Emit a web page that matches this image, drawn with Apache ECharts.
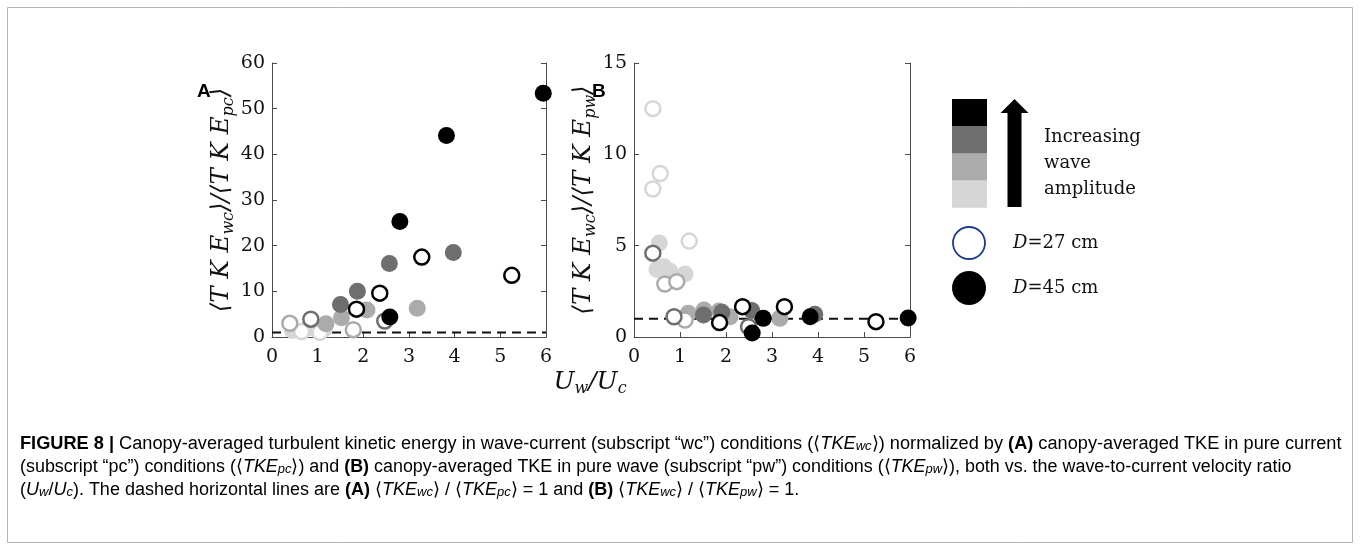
<!DOCTYPE html>
<html lang="en">
<head>
<meta charset="UTF-8">
<title>Figure 8</title>
<style>html,body{margin:0;padding:0;background:#fff}</style>
</head>
<body>
<div id="main" style="width:1360px;height:548px;"></div>
<script src="https://cdn.jsdelivr.net/npm/echarts@6/dist/echarts.min.js"></script>
<script>
// grey levels, lightest -> darkest (increasing wave amplitude)
var levelColors = ['#d6d6d6', '#ababab', '#6e6e6e', '#000000'];

// panel A : <TKEwc>/<TKEpc> vs Uw/Uc  (27 = open, 45 = filled)
var a27_lv1 = [[0.65, 1.2], [1.05, 1.0]];
var a45_lv1 = [[0.45, 1.4], [0.8, 2.0], [1.15, 1.8]];
var a27_lv2 = [[0.39, 3.0], [1.78, 1.6]];
var a45_lv2 = [[1.18, 2.9], [1.52, 4.2], [2.08, 5.9], [3.18, 6.3]];
var a27_lv3 = [[0.85, 3.9], [2.47, 3.5]];
var a45_lv3 = [[1.5, 7.1], [1.87, 10.0], [2.57, 16.1], [3.97, 18.5]];
var a27_lv4 = [[1.85, 6.1], [2.36, 9.6], [3.28, 17.5], [5.25, 13.5]];
var a45_lv4 = [[2.58, 4.4], [2.8, 25.3], [3.82, 44.1], [5.94, 53.4]];

// panel B : <TKEwc>/<TKEpw> vs Uw/Uc
var b27_lv1 = [[0.41, 12.5], [0.57, 8.95], [0.41, 8.1], [1.2, 5.25]];
var b45_lv1 = [[0.55, 5.15], [0.5, 3.7], [0.65, 3.85], [0.78, 3.6], [1.11, 3.45]];
var b27_lv2 = [[0.67, 2.9], [0.93, 3.03], [1.11, 0.93]];
var b45_lv2 = [[1.18, 1.3], [1.52, 1.48], [1.85, 1.42], [2.09, 1.11], [3.17, 1.02]];
var b27_lv3 = [[0.41, 4.59], [0.87, 1.11], [2.49, 0.56]];
var b45_lv3 = [[1.51, 1.2], [1.91, 1.35], [2.56, 1.45], [3.93, 1.24]];
var b27_lv4 = [[1.86, 0.79], [2.36, 1.66], [3.27, 1.66], [5.26, 0.84]];
var b45_lv4 = [[2.57, 0.22], [2.81, 1.02], [3.83, 1.11], [5.96, 1.04]];

// dashed reference line (ratio = 1)
var refLine = [[0, 1], [6, 1]];

var yMaxA = 60, yStepA = 10;
var yMaxB = 15, yStepB = 5;

var serif = 'DejaVu Serif';
var axisCol = '#4a4a4a';

function dots(data, level, open, gi) {
    var c = levelColors[level];
    return {
        type: 'scatter', xAxisIndex: gi, yAxisIndex: gi * 2,
        data: data, symbol: 'circle',
        symbolSize: open ? 15 : 17,
        z: 3 + level,
        itemStyle: open
            ? { color: '#fff', borderColor: c, borderWidth: 2.5, opacity: 1 }
            : { color: c, borderWidth: 0, opacity: 1 },
        emphasis: { disabled: true }
    };
}

function dashed(gi) {
    return {
        type: 'line', xAxisIndex: gi, yAxisIndex: gi * 2, data: refLine,
        symbol: 'none', z: 2,
        lineStyle: { color: '#111', width: 2, type: [9, 6] }
    };
}

function xAx(gi) {
    return {
        gridIndex: gi, type: 'value', min: 0, max: 6, interval: 1,
        axisLine: { show: true, onZero: false, lineStyle: { color: axisCol } },
        axisTick: { show: true, inside: true, length: 5, lineStyle: { color: axisCol } },
        axisLabel: { fontFamily: serif, fontSize: 19, color: '#111', margin: 11 },
        splitLine: { show: false }
    };
}

function yAx(gi, max, step, name, gap) {
    return [{
        gridIndex: gi, type: 'value', min: 0, max: max, interval: step, position: 'left',
        axisLine: { show: true, lineStyle: { color: axisCol } },
        axisTick: { show: true, inside: true, length: 5, lineStyle: { color: axisCol } },
        axisLabel: { fontFamily: serif, fontSize: 19, color: '#111', margin: 7 },
        splitLine: { show: false },
        name: name, nameLocation: 'middle', nameGap: gap,
        nameTextStyle: {
            color: '#111',
            rich: {
                m: { fontFamily: serif, fontStyle: 'italic', fontSize: 24.5, color: '#111', lineHeight: 31 },
                s: { fontFamily: serif, fontStyle: 'italic', fontSize: 16, color: '#111', verticalAlign: 'bottom', lineHeight: 26 }
            }
        }
    }, {
        gridIndex: gi, type: 'value', min: 0, max: max, interval: step, position: 'right',
        axisLine: { show: true, lineStyle: { color: axisCol } },
        axisTick: { show: true, inside: true, length: 5, lineStyle: { color: axisCol } },
        axisLabel: { show: false },
        splitLine: { show: false }
    }];
}

var capFont = 'Liberation Sans';
var capRich = {
    n: { fontFamily: capFont, fontSize: 18, color: '#231f20' },
    b: { fontFamily: capFont, fontSize: 18, fontWeight: 'bold', color: '#231f20' },
    i: { fontFamily: capFont, fontSize: 18, fontStyle: 'italic', color: '#231f20' },
    is: { fontFamily: capFont, fontSize: 13, fontStyle: 'italic', color: '#231f20', verticalAlign: 'bottom', lineHeight: 17 }
};
var capLines = [
    '{b|FIGURE 8 |}{n| Canopy-averaged turbulent kinetic energy in wave-current (subscript \u201cwc\u201d) conditions (\u27e8}{i|TKE}{is|wc}{n|\u27e9) normalized by }{b|(A)}{n| canopy-averaged TKE in pure current}',
    '{n|(subscript \u201cpc\u201d) conditions (\u27e8}{i|TKE}{is|pc}{n|\u27e9) and }{b|(B)}{n| canopy-averaged TKE in pure wave (subscript \u201cpw\u201d) conditions (\u27e8}{i|TKE}{is|pw}{n|\u27e9), both vs. the wave-to-current velocity ratio}',
    '{n|(}{i|U}{is|w}{n|/}{i|U}{is|c}{n|). The dashed horizontal lines are }{b|(A)}{n| \u27e8}{i|TKE}{is|wc}{n|\u27e9 / \u27e8}{i|TKE}{is|pc}{n|\u27e9 = 1 and }{b|(B)}{n| \u27e8}{i|TKE}{is|wc}{n|\u27e9 / \u27e8}{i|TKE}{is|pw}{n|\u27e9 = 1.}'
];
var capY = [444, 467, 490];
var capScale = [1.01, 0.995, 1.0];

var greyBoxes = [];
for (var k = 0; k < 4; k++) {
    greyBoxes.push({
        type: 'rect', shape: { x: 952, y: 99 + (3 - k) * 27.2, width: 35, height: 27.2 },
        style: { fill: levelColors[k] }
    });
}

var legendText = { fontFamily: serif, fontSize: 18, fill: '#111' };
var graphics = [
    { type: 'rect', shape: { x: 7.5, y: 7.5, width: 1345, height: 535 }, style: { fill: 'none', stroke: '#b5b5b5', lineWidth: 1 }, silent: true },
    { type: 'text', x: 197, y: 82, style: { text: 'A', fontFamily: 'Liberation Sans', fontWeight: 'bold', fontSize: 19, fill: '#000' } },
    { type: 'text', x: 592, y: 82, style: { text: 'B', fontFamily: 'Liberation Sans', fontWeight: 'bold', fontSize: 19, fill: '#000' } },
    {
        type: 'text', x: 590, y: 382,
        style: {
            text: '{m|U}{s|w}{m|/U}{s|c}', align: 'center', verticalAlign: 'middle',
            rich: {
                m: { fontFamily: serif, fontStyle: 'italic', fontSize: 25, fill: '#111', lineHeight: 30 },
                s: { fontFamily: serif, fontStyle: 'italic', fontSize: 16, fill: '#111', verticalAlign: 'bottom', lineHeight: 24 }
            }
        }
    },
    // arrow: increasing wave amplitude
    { type: 'polygon', shape: { points: [[1014.5, 99], [1028.5, 113], [1021.5, 113], [1021.5, 207], [1007.5, 207], [1007.5, 113], [1000.5, 113]] }, style: { fill: '#000' } },
    { type: 'text', x: 1044, y: 137, style: Object.assign({ text: 'Increasing', verticalAlign: 'middle' }, legendText) },
    { type: 'text', x: 1044, y: 163, style: Object.assign({ text: 'wave', verticalAlign: 'middle' }, legendText) },
    { type: 'text', x: 1044, y: 189, style: Object.assign({ text: 'amplitude', verticalAlign: 'middle' }, legendText) },
    { type: 'circle', shape: { cx: 969, cy: 243, r: 16 }, style: { fill: '#fff', stroke: '#1d3b8e', lineWidth: 1.8 } },
    { type: 'circle', shape: { cx: 969, cy: 288, r: 17 }, style: { fill: '#000' } },
    {
        type: 'text', x: 1013, y: 243,
        style: { text: '{i|D}{n|=27 cm}', verticalAlign: 'middle',
            rich: { i: Object.assign({ fontStyle: 'italic' }, legendText), n: legendText } }
    },
    {
        type: 'text', x: 1013, y: 288,
        style: { text: '{i|D}{n|=45 cm}', verticalAlign: 'middle',
            rich: { i: Object.assign({ fontStyle: 'italic' }, legendText), n: legendText } }
    }
].concat(greyBoxes);

for (var j = 0; j < capLines.length; j++) {
    graphics.push({
        type: 'text', x: 20, y: capY[j], scaleX: capScale[j],
        style: { text: capLines[j], verticalAlign: 'middle', rich: capRich }
    });
}

var chart = echarts.init(document.getElementById('main'));
chart.setOption({
    animation: false,
    backgroundColor: '#fff',
    grid: [
        { left: 272, top: 63, width: 274, height: 274 },
        { left: 634, top: 63, width: 276, height: 274 }
    ],
    xAxis: [xAx(0), xAx(1)],
    yAxis: yAx(0, yMaxA, yStepA, '{m|\u27e8T K E}{s|wc}{m|\u27e9/\u27e8T K E}{s|pc}{m|\u27e9}', 31)
        .concat(yAx(1, yMaxB, yStepB, '{m|\u27e8T K E}{s|wc}{m|\u27e9/\u27e8T K E}{s|pw}{m|\u27e9}', 34)),
    series: [
        dashed(0),
        dots(a45_lv1, 0, false, 0), dots(a27_lv1, 0, true, 0),
        dots(a45_lv2, 1, false, 0), dots(a27_lv2, 1, true, 0),
        dots(a45_lv3, 2, false, 0), dots(a27_lv3, 2, true, 0),
        dots(a45_lv4, 3, false, 0), dots(a27_lv4, 3, true, 0),
        dashed(1),
        dots(b45_lv1, 0, false, 1), dots(b27_lv1, 0, true, 1),
        dots(b45_lv2, 1, false, 1), dots(b27_lv2, 1, true, 1),
        dots(b45_lv3, 2, false, 1), dots(b27_lv3, 2, true, 1),
        dots(b45_lv4, 3, false, 1), dots(b27_lv4, 3, true, 1)
    ],
    graphic: graphics
});
</script>
</body>
</html>
